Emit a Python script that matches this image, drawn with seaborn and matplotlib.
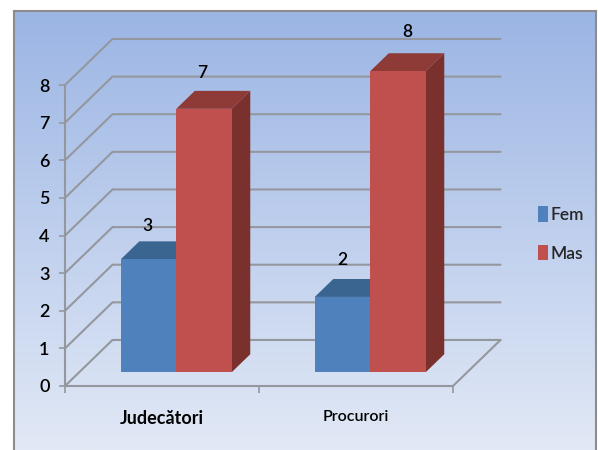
import numpy as np
import pandas as pd
import seaborn as sns
from matplotlib import pyplot as plt
from matplotlib.patches import Polygon

categories = ['Judecători', 'Procurori']
series = ['Fem', 'Mas']
fem_values = [3, 2]
mas_values = [7, 8]
y_ticks = [0, 1, 2, 3, 4, 5, 6, 7, 8]

W, H = 598, 450
GRID = '#94989e'

sns.set_style('white')
plt.rcParams['font.family'] = ['Lato', 'DejaVu Sans']
plt.rcParams['font.weight'] = 'semibold'

df = pd.DataFrame({
    'category': categories * 2,
    'sex': [series[0]] * 2 + [series[1]] * 2,
    'value': fem_values + mas_values,
})


def px_rect(left, top, right, bottom):
    # pixel box of the reference -> figure fraction
    return [left / W, 1 - bottom / H, (right - left) / W, (bottom - top) / H]


fig = plt.figure(figsize=(W / 100, H / 100), dpi=100)
fig.patch.set_facecolor('white')

# background gradient with grey frame
bg = fig.add_axes(px_rect(13.5, 11, 596, 450), zorder=0)
top_col = np.array([155, 181, 228]) / 255
bot_col = np.array([226, 233, 246]) / 255
t = np.linspace(0, 1, 256)[:, None, None]
bg.imshow(top_col[None, None, :] * (1 - t) + bot_col[None, None, :] * t, aspect='auto')
bg.set_xticks([])
bg.set_yticks([])
for side in ['left', 'top', 'right']:
    bg.spines[side].set_color('#8c8c8c')
    bg.spines[side].set_linewidth(1.5)
bg.spines['bottom'].set_visible(False)

# front plane of the 3d box
ax = fig.add_axes(px_rect(65, 85, 453, 386), zorder=1)
ax.patch.set_alpha(0)
sns.barplot(data=df, x='category', y='value', hue='sex', order=categories, hue_order=series,
            palette=['#4f81bd', '#c0504d'], width=0.572, gap=0, saturation=1, linewidth=0, ax=ax)
ax.set_xlim(-0.5, 1.5)
ax.set_ylim(0, 8)

# depth of the box in data units
dx = 47.5 / 194
dy = 46 / 37.6
bar_start = 0.3   # where the bars begin, as part of the depth
bar_depth = 0.39

# walls and floor
for v in y_ticks:
    ax.plot([-0.5, -0.5 + dx, 1.5 + dx], [v, v + dy, v + dy], color=GRID, lw=1.5,
            clip_on=False, zorder=1)
ax.plot([1.5, 1.5 + dx], [0, dy], color=GRID, lw=1.5, clip_on=False, zorder=1)

side_cols = {'Fem': ('#3b6591', '#345a82'), 'Mas': ('#8e3a37', '#7a302d')}
# the value labels are not placed evenly in the original (points)
label_shift = {('Fem', 0): (-0.5, 11), ('Fem', 1): (-0.5, 13.5),
               ('Mas', 0): (-1, 13), ('Mas', 1): (7, 15)}
for s, (name, cont) in enumerate(zip(series, ax.containers)):
    top_c, side_c = side_cols[name]
    for c, bar in enumerate(cont):
        bar.set_x(bar.get_x() + dx * bar_start)
        bar.set_y(dy * bar_start)
        bar.set_clip_on(False)
        bar.set_zorder(3 + 2 * s + 1)
        x0, x1 = bar.get_x(), bar.get_x() + bar.get_width()
        y0, y1 = bar.get_y(), bar.get_y() + bar.get_height()
        ddx, ddy = dx * bar_depth, dy * bar_depth
        ax.add_patch(Polygon([(x0, y1), (x1, y1), (x1 + ddx, y1 + ddy), (x0 + ddx, y1 + ddy)],
                             facecolor=top_c, edgecolor='none', clip_on=False, zorder=3 + 2 * s))
        ax.add_patch(Polygon([(x1, y0), (x1, y1), (x1 + ddx, y1 + ddy), (x1 + ddx, y0 + ddy)],
                             facecolor=side_c, edgecolor='none', clip_on=False, zorder=3 + 2 * s))
        ax.annotate(str(int(bar.get_height())), ((x0 + x1) / 2, y1 + ddy),
                    xytext=label_shift[(name, c)], textcoords='offset points',
                    ha='center', va='center', fontsize=12.5, color='black',
                    annotation_clip=False, zorder=8)

# axes, ticks and labels
sns.despine(ax=ax)
for side in ['left', 'bottom']:
    ax.spines[side].set_color(GRID)
    ax.spines[side].set_linewidth(1.5)
ax.set_xlabel('')
ax.set_ylabel('')
ax.set_yticks(y_ticks)
ax.set_xticks([-0.5, 0.5, 1.5])
ax.set_xticklabels([])
ax.set_xticks([0, 1], labels=categories, minor=True)
ax.tick_params(axis='y', which='major', left=True, length=4, width=1.2, color=GRID, pad=7,
               labelsize=13, labelcolor='black')
ax.tick_params(axis='x', which='major', bottom=True, length=5, width=1.2, color=GRID)
ax.tick_params(axis='x', which='minor', bottom=False, length=0, pad=17, labelsize=11.5,
               labelcolor='black')
minor_labels = ax.get_xticklabels(minor=True)
minor_labels[0].set_fontweight('bold')
minor_labels[0].set_fontsize(13)

sns.move_legend(ax, loc='center left', bbox_to_anchor=(1.219, 0.505), title=None, frameon=False,
                fontsize=12.5, handlelength=0.55, handleheight=1.0, handletextpad=0.2,
                labelspacing=1.25, borderaxespad=0, borderpad=0)
for handle in ax.get_legend().get_patches():
    handle.set_edgecolor('none')

fig.savefig('out.png', dpi=100)
